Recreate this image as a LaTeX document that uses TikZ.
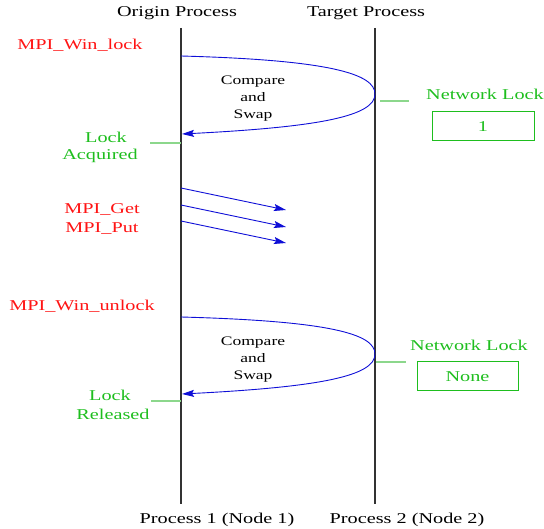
\documentclass[tikz,border=0pt]{standalone}
\usepackage{fontspec}
\setmainfont{Liberation Serif}
\newfontfamily\wfont[FakeStretch=1.35]{Liberation Serif}
\usetikzlibrary{arrows.meta}
\definecolor{mred}{RGB}{255,20,20}
\definecolor{mgreen}{RGB}{30,190,30}
\definecolor{mlgreen}{RGB}{140,215,140}
\definecolor{mblue}{RGB}{15,15,215}
\definecolor{mgray}{RGB}{50,50,50}
\begin{document}
\begin{tikzpicture}[x=1pt,y=-1pt,
  big/.style={font=\wfont\fontsize{15}{17}\selectfont, inner sep=0pt, anchor=base},
  small/.style={font=\wfont\fontsize{13}{15}\selectfont, inner sep=0pt, anchor=base},
  redlbl/.style={big, text=mred},
  greenlbl/.style={big, text=mgreen},
  proc/.style={draw=mgray, line width=1.3pt},
  msg/.style={draw=mblue, line width=0.9pt, -{Stealth[length=12pt,width=7pt,inset=2pt]}},
  tick/.style={draw=mlgreen, line width=1.4pt},
  lockbox/.style={draw=mgreen, line width=1pt, text=mgreen, inner sep=0pt,
     font=\wfont\fontsize{15}{17}\selectfont}
]
\useasboundingbox (0,0) rectangle (544,529);

% titles
\node[big] (ot) at (177,17) {Origin Process};
\node[big] (tt) at (366,17) {Target Process};
\node[big] (ob) at (217,523) {Process 1 (Node 1)};
\node[big] (tb) at (407,523) {Process 2 (Node 2)};

% lifelines
\coordinate (o1) at (181,28); \coordinate (o2) at (181,504);
\coordinate (t1) at (375,28); \coordinate (t2) at (375,504);
\draw[proc] (o1) -- (o2);
\draw[proc] (t1) -- (t2);

% lock
\node[redlbl] (wl) at (80,50) {MPI\_Win\_lock};
\coordinate (c1s) at (181,56);
\coordinate (c1t) at (375,94);
\coordinate (c1e) at (182,134);
\draw[msg] (c1s) .. controls (330,60) and (375,74) .. (c1t)
   .. controls (375,116) and (320,127) .. (c1e);
\node[small] (cs1a) at (253,85) {Compare};
\node[small] (cs1b) at (253,102) {and};
\node[small] (cs1c) at (253,119) {Swap};

\coordinate (la1) at (150,143); \coordinate (la2) at (181,143);
\draw[tick] (la1) -- (la2);
\node[greenlbl] (lk1) at (106,143) {Lock};
\node[greenlbl] (acq) at (100,160) {Acquired};

\coordinate (nl1) at (380,101); \coordinate (nl2) at (409,101);
\draw[tick] (nl1) -- (nl2);
\node[greenlbl] (nlt1) at (485,100) {Network Lock};
\node[lockbox, minimum width=102pt, minimum height=29pt] (box1) at (483,126.5) {1};

% get / put
\node[redlbl] (get) at (102,214) {MPI\_Get};
\node[redlbl] (put) at (102,233) {MPI\_Put};
\coordinate (g1s) at (181,188); \coordinate (g1e) at (286,210);
\coordinate (g2s) at (181,205); \coordinate (g2e) at (286,227);
\coordinate (g3s) at (181,221); \coordinate (g3e) at (286,243);
\draw[msg] (g1s) -- (g1e);
\draw[msg] (g2s) -- (g2e);
\draw[msg] (g3s) -- (g3e);

% unlock
\node[redlbl] (wu) at (82,311) {MPI\_Win\_unlock};
\coordinate (c2s) at (181,317);
\coordinate (c2t) at (375,354);
\coordinate (c2e) at (182,394);
\draw[msg] (c2s) .. controls (330,321) and (375,334) .. (c2t)
   .. controls (375,376) and (320,387) .. (c2e);
\node[small] (cs2a) at (253,345.5) {Compare};
\node[small] (cs2b) at (253,362.5) {and};
\node[small] (cs2c) at (253,379.5) {Swap};

\coordinate (lr1) at (151,401); \coordinate (lr2) at (181,401);
\draw[tick] (lr1) -- (lr2);
\node[greenlbl] (lk2) at (110,401) {Lock};
\node[greenlbl] (rel) at (113,420) {Released};

\coordinate (nl3) at (376,362); \coordinate (nl4) at (406,362);
\draw[tick] (nl3) -- (nl4);
\node[greenlbl] (nlt2) at (469,351) {Network Lock};
\node[lockbox, minimum width=101pt, minimum height=29pt] (box2) at (467.5,376.5) {None};
\end{tikzpicture}
\end{document}
